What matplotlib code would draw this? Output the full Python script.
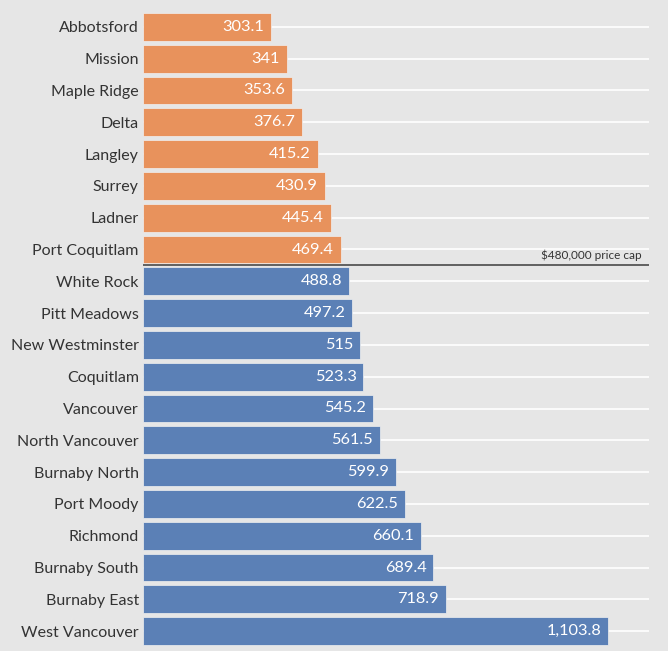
import matplotlib
matplotlib.use("Agg")
import matplotlib.pyplot as plt

cities = ["Abbotsford", "Mission", "Maple Ridge", "Delta", "Langley", "Surrey", "Ladner",
          "Port Coquitlam", "White Rock", "Pitt Meadows", "New Westminster", "Coquitlam",
          "Vancouver", "North Vancouver", "Burnaby North", "Port Moody", "Richmond",
          "Burnaby South", "Burnaby East", "West Vancouver"]
values = [303.1, 341, 353.6, 376.7, 415.2, 430.9, 445.4, 469.4, 488.8, 497.2, 515, 523.3,
          545.2, 561.5, 599.9, 622.5, 660.1, 689.4, 718.9, 1103.8]
cap_value = 480
cap_label = "$480,000 price cap"

plt.rcParams['font.family'] = ['Lato', 'DejaVu Sans']
bg = "#e6e6e6"
orange = "#e8925c"
blue = "#5b80b6"

fig = plt.figure(figsize=(6.68, 6.51), dpi=100, facecolor=bg)
ax = fig.add_axes([143/668, 4/651, (649-143)/668, (640-4)/651], facecolor=bg)

n = len(cities)
ys = list(range(n))
colors = [orange if v < cap_value else blue for v in values]
xmax = (649-143)/0.4213

ax.hlines(ys, 0, xmax, color="white", lw=1.2, zorder=0, clip_on=True)

ax.barh(ys, values, height=0.88, color=colors, edgecolor="#f0f0f0", linewidth=0.5, zorder=2)

def fmt(v):
    if v == int(v):
        s = f"{int(v):,}"
    else:
        s = f"{v:,.1f}"
    return s

for y, v in zip(ys, values):
    ax.annotate(fmt(v), xy=(v, y), xytext=(-5, 0), textcoords="offset points",
                ha="right", va="center", color="white", fontsize=11.8, zorder=3)

ncap = sum(1 for v in values if v < cap_value)
ax.hlines(ncap - 0.5, 0, xmax, color="#555555", lw=1.3, zorder=4)
ax.annotate(cap_label, xy=(1, ncap - 0.5), xycoords=("axes fraction", "data"),
            xytext=(-5, 3), textcoords="offset points", ha="right", va="bottom",
            fontsize=8.5, color="#333333")

ax.set_yticks(ys)
ax.set_yticklabels(cities, fontsize=11.5, color="#333333")
ax.tick_params(axis="y", length=0, pad=3)
ax.set_xticks([])
ax.set_xlim(0, xmax)
ax.set_ylim(n - 0.5, -0.5)
for s in ax.spines.values():
    s.set_visible(False)

fig.savefig("out.png", dpi=100, facecolor=bg)
